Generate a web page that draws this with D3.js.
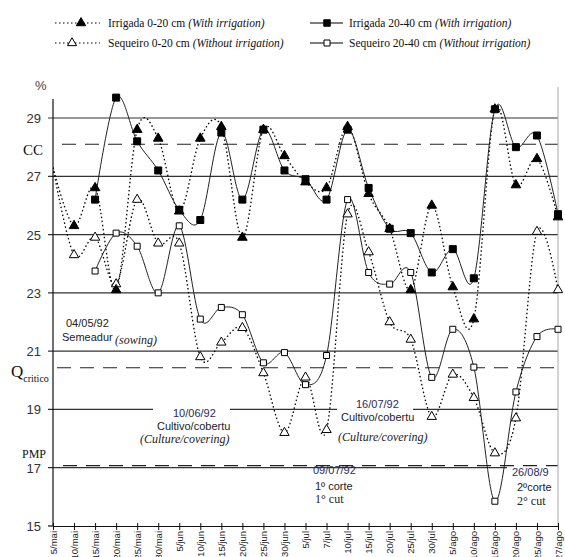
<!DOCTYPE html>
<html>
<head>
<meta charset="utf-8">
<script src="https://cdn.jsdelivr.net/npm/d3@7"></script>
<style>
  body { margin: 0; background: #fff; }
  svg { display: block; }
</style>
</head>
<body>
<svg width="565" height="557"></svg>
<script>
// dates of sampling
var categories = ['5/mai', '10/mai', '15/mai', '20/mai', '25/mai', '30/mai', '5/jun', '10/jun', '15/jun', '20/jun',
    '25/jun', '30/jun', '5/jul', '7/jul', '10/jul', '15/jul', '20/jul', '25/jul', '30/jul', '5/ago',
    '10/ago', '15/ago', '20/ago', '25/ago', '27/ago'];

// soil moisture (%)
var irrigada020 = [27.3, 25.3, 26.6, 23.1, 28.6, 28.3, 25.8, 28.3, 28.7, 24.9, 28.6, 27.7, 26.8, 26.6, 28.7, 26.4,
    25.2, 23.1, 26.0, 23.2, 22.1, 29.3, 26.7, 27.6, 25.6];
var sequeiro020 = [27.3, 24.3, 24.9, 23.3, 26.2, 24.7, 24.7, 20.8, 21.3, 21.8, 20.25, 18.2, 20.1, 18.3, 25.7, 24.4,
    22.0, 21.4, 18.75, 20.2, 19.4, 17.5, 18.7, 25.1, 23.1];
var irrigada2040 = [null, null, 26.2, 29.7, 28.2, 27.2, 25.85, 25.5, 28.5, 26.2, 28.6, 27.2, 26.9, 26.2, 28.6, 26.6,
    25.2, 25.05, 23.7, 24.5, 23.5, 29.3, 28.0, 28.4, 25.7];
var sequeiro2040 = [null, null, 23.75, 25.05, 24.6, 23.0, 25.3, 22.1, 22.5, 22.25, 20.6, 20.95, 19.85, 20.85, 26.2, 23.7,
    23.3, 23.7, 20.1, 21.75, 20.45, 15.85, 19.6, 21.5, 21.75];

var yTicks = [15, 17, 19, 21, 23, 25, 27, 29];
var refLevels = [28.1, 20.43, 17.07]; // CC, Q critico, PMP

var svg = d3.select('svg');
var sans = "'Liberation Sans', Arial, sans-serif";
var narrow = "'Liberation Sans Narrow', 'Arial Narrow', 'Liberation Sans', sans-serif";
var serif = "'Liberation Serif', 'Times New Roman', serif";

var x = d3.scalePoint().domain(categories).range([53, 558]);
var y = d3.scaleLinear().domain([15, 29]).range([526, 118]);

// grid lines (some broken by the annotation boxes)
var gaps = {19: [[153, 230], [337, 413]], 17: [[507, 560]]};
yTicks.filter(function(v) { return v > 15; }).forEach(function(v) {
    var segs = [[48, 558]];
    (gaps[v] || []).forEach(function(g) {
        var last = segs.pop();
        segs.push([last[0], g[0]]);
        if (g[1] < last[1]) segs.push([g[1], last[1]]);
    });
    segs.forEach(function(s) {
        svg.append('line')
            .attr('x1', s[0]).attr('x2', s[1])
            .attr('y1', y(v)).attr('y2', y(v))
            .attr('stroke', '#333').attr('stroke-width', 1.2);
    });
});

// dashed reference lines
var refStart = [62, 57, 63];
refLevels.forEach(function(v, i) {
    svg.append('line')
        .attr('x1', refStart[i]).attr('x2', 558)
        .attr('y1', y(v)).attr('y2', y(v))
        .attr('stroke', '#222').attr('stroke-width', 1.2)
        .attr('stroke-dasharray', '14,9');
});

// axes
svg.append('line').attr('x1', 53).attr('x2', 53).attr('y1', 99).attr('y2', 526)
    .attr('stroke', '#111').attr('stroke-width', 1.2);
svg.append('line').attr('x1', 558).attr('x2', 558).attr('y1', 87).attr('y2', 526)
    .attr('stroke', '#aaa').attr('stroke-width', 1);

var xAxis = svg.append('g').attr('transform', 'translate(0,526)')
    .call(d3.axisBottom(x).tickSize(4).tickSizeOuter(0));
xAxis.select('.domain').attr('stroke', '#111').attr('stroke-width', 1.2);
xAxis.selectAll('.tick line').attr('stroke', '#111').attr('y1', -3).attr('y2', 4);
xAxis.selectAll('.tick text')
    .attr('transform', 'rotate(-90)')
    .attr('x', -5).attr('y', 0).attr('dy', '0.32em')
    .attr('text-anchor', 'end')
    .attr('font-family', narrow).attr('font-size', 9.5).attr('fill', '#222');

svg.append('line').attr('x1', 48).attr('x2', 53).attr('y1', 526).attr('y2', 526)
    .attr('stroke', '#111').attr('stroke-width', 1.2);

svg.selectAll('.ylab').data(yTicks).enter().append('text')
    .attr('x', 41).attr('y', function(d) { return y(d) + 5; })
    .attr('text-anchor', 'end')
    .attr('font-family', sans).attr('font-size', 13).attr('fill', '#333')
    .text(function(d) { return d; });

svg.append('text').attr('x', 35).attr('y', 90).attr('font-family', sans).attr('font-size', 13)
    .attr('fill', '#444').text('%');
svg.append('text').attr('x', 23).attr('y', 155).attr('font-family', serif).attr('font-size', 15)
    .attr('fill', '#111').text('CC');
var q = svg.append('text').attr('x', 11).attr('y', 377).attr('font-family', serif).attr('font-size', 17).attr('fill', '#111');
q.append('tspan').text('Q');
q.append('tspan').attr('font-size', 10).attr('dy', 5).text('critico');
svg.append('text').attr('x', 22).attr('y', 458).attr('font-family', serif).attr('font-size', 12)
    .attr('fill', '#111').text('PMP');

// annotations
function note(px, py, str, font, size, color, italic) {
    svg.append('text').attr('x', px).attr('y', py)
        .attr('font-family', font).attr('font-size', size)
        .attr('font-style', italic ? 'italic' : 'normal')
        .attr('fill', color).text(str);
}
var dateCol = '#2b2b58';
note(66, 327, '04/05/92', sans, 11, '#222');
note(62, 341, 'Semeadur', sans, 11, '#222');
note(115, 344, '(sowing)', serif, 12, '#222', true);
note(173, 417, '10/06/92', sans, 11, dateCol);
note(157, 430, 'Cultivo/cobertu', sans, 11, '#222');
note(140, 443, '(Culture/covering)', serif, 12, '#222', true);
note(356, 408, '16/07/92', sans, 11, dateCol);
note(341, 421, 'Cultivo/cobertu', sans, 11, '#222');
note(338, 441, '(Culture/covering)', serif, 12, '#222', true);
note(313, 474, '09/07/92', sans, 11, dateCol);
note(315, 490, '1º corte', sans, 11, '#222');
note(315, 503, '1° cut', serif, 12, '#222');
note(512, 476, '26/08/9', sans, 11, dateCol);
note(517, 491, '2ºcorte', sans, 11, '#222');
note(517, 505, '2° cut', serif, 12, '#222');

// series
svg.append('clipPath').attr('id', 'plot').append('rect')
    .attr('x', 53).attr('y', 70).attr('width', 510).attr('height', 470);
var plot = svg.append('g').attr('clip-path', 'url(#plot)');

var series = [
    {values: sequeiro020, dash: '1.5,2.5', shape: d3.symbolTriangle, size: 38, fill: '#fff'},
    {values: sequeiro2040, dash: null, shape: d3.symbolSquare, size: 36, fill: '#fff'},
    {values: irrigada020, dash: '1.5,2.5', shape: d3.symbolTriangle, size: 40, fill: '#000'},
    {values: irrigada2040, dash: null, shape: d3.symbolSquare, size: 49, fill: '#000'}
];

var line = d3.line()
    .defined(function(d) { return d != null; })
    .x(function(d, i) { return x(categories[i]); })
    .y(function(d) { return y(d); })
    .curve(d3.curveCardinal.tension(0));

series.forEach(function(s) {
    plot.append('path')
        .attr('d', line(s.values))
        .attr('fill', 'none')
        .attr('stroke', s.dash ? '#000' : '#222')
        .attr('stroke-width', s.dash ? 1.3 : 1)
        .attr('stroke-dasharray', s.dash);
});
series.forEach(function(s) {
    s.values.forEach(function(v, i) {
        if (v == null || i == 0) return; // first marker sits under the axis
        plot.append('path')
            .attr('d', d3.symbol().type(s.shape).size(s.size)())
            .attr('transform', 'translate(' + x(categories[i]) + ',' + y(v) + ')')
            .attr('fill', s.fill)
            .attr('stroke', '#000').attr('stroke-width', 1);
    });
});

// legend
function legendItem(x1, x2, mx, ly, dash, shape, size, fill, label, extra) {
    svg.append('line').attr('x1', x1).attr('x2', x2).attr('y1', ly).attr('y2', ly)
        .attr('stroke', '#000').attr('stroke-width', dash ? 1.2 : 1)
        .attr('stroke-dasharray', dash);
    svg.append('path').attr('d', d3.symbol().type(shape).size(size)())
        .attr('transform', 'translate(' + mx + ',' + ly + ')')
        .attr('fill', fill).attr('stroke', '#000');
    var t = svg.append('text').attr('x', x2 + (dash ? 8 : 6)).attr('y', ly + 4)
        .attr('font-family', serif).attr('font-size', 11.5).attr('fill', '#111');
    t.append('tspan').text(label + ' ');
    t.append('tspan').attr('font-style', 'italic').text(extra);
}
legendItem(55, 100, 81, 23, '1.5,2.5', d3.symbolTriangle, 38, '#000', 'Irrigada 0-20 cm', '(With irrigation)');
legendItem(55, 100, 72, 43, '1.5,2.5', d3.symbolTriangle, 36, '#fff', 'Sequeiro 0-20 cm', '(Without irrigation)');
legendItem(310, 343, 327, 23, null, d3.symbolSquare, 42, '#000', 'Irrigada 20-40 cm', '(With irrigation)');
legendItem(310, 343, 327, 43, null, d3.symbolSquare, 36, '#fff', 'Sequeiro 20-40 cm', '(Without irrigation)');
</script>
</body>
</html>
